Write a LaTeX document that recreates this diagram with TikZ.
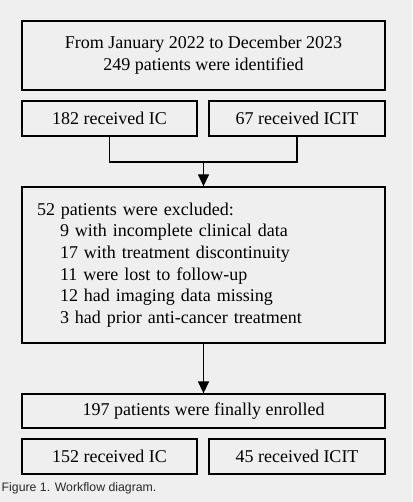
\documentclass[tikz,border=0pt]{standalone}
\usepackage{fontspec}
\setmainfont{Liberation Serif}
\newfontfamily\capfont{Liberation Sans}
\usetikzlibrary{arrows.meta}
\definecolor{bg}{RGB}{239,239,239}
\definecolor{capc}{RGB}{40,40,40}
\begin{document}
\begin{tikzpicture}[x=1pt,y=-1pt,
  box/.style={draw=black,line width=1.3pt,rectangle,inner sep=0pt,font=\fontsize{18}{21.7}\selectfont,align=center},
  conn/.style={line width=1.3pt},
  arr/.style={line width=1.3pt,-{Triangle[width=11pt,length=12pt]}}]
\fill[bg] (0,0) rectangle (412,502);
\useasboundingbox (0,0) rectangle (412,502);
\node[box,minimum width=363pt,minimum height=69pt] (top) at (203.5,55.5) {From January 2022 to December 2023\\249 patients were identified};
\node[box,minimum width=175pt,minimum height=35pt] (ic) at (109.5,118.5) {182 received IC};
\node[box,minimum width=176pt,minimum height=35pt] (icit) at (297,118.5) {67 received ICIT};
\node[box,minimum width=363pt,minimum height=156pt,align=left,text width=333pt,inner xsep=15pt] (excl) at (203.5,265) {52 patients were excluded:\\
\hspace*{23pt}9 with incomplete clinical data\\
\hspace*{23pt}17 with treatment discontinuity\\
\hspace*{23pt}11 were lost to follow-up\\
\hspace*{23pt}12 had imaging data missing\\
\hspace*{23pt}3 had prior anti-cancer treatment};
\node[box,minimum width=363pt,minimum height=34pt] (enr) at (203.5,411) {197 patients were finally enrolled};
\node[box,minimum width=175pt,minimum height=35pt] (ic2) at (109.5,456.5) {152 received IC};
\node[box,minimum width=176pt,minimum height=35pt] (icit2) at (297,456.5) {45 received ICIT};
\coordinate (j) at (203.5,162);
\draw[conn] (ic.south) |- (j) -| (icit.south);
\draw[arr] (j) -- (excl.north);
\draw[arr] (excl.south) -- (enr.north);
\node[anchor=west,inner sep=0pt,font=\capfont\fontsize{12.3}{14}\selectfont,text=capc] (cap) at (1.5,488) {Figure 1. Workflow diagram.};
\end{tikzpicture}
\end{document}
